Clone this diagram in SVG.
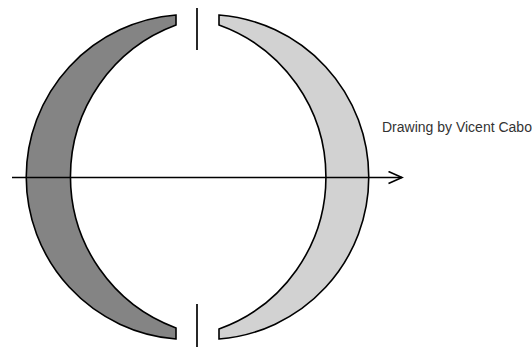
<svg xmlns="http://www.w3.org/2000/svg" width="532" height="347" viewBox="0 0 532 347">
  <style>
    .lens { stroke: #000; stroke-width: 1.6; stroke-linejoin: miter; }
    .tick { stroke: #111; stroke-width: 1.8; fill: none; }
    .axis { stroke: #000; stroke-width: 1.6; fill: none; }
    .label { font-family: "Liberation Sans", Arial, sans-serif; font-size: 14px; fill: #333; }
  </style>
  <defs>
    <marker id="arrow" markerWidth="16" markerHeight="14" refX="14" refY="7" orient="auto" markerUnits="userSpaceOnUse">
      <path d="M0.5,1 L14,7 L0.5,13" fill="none" stroke="#000" stroke-width="1.6"/>
    </marker>
  </defs>
  <rect width="532" height="347" fill="#fff"/>
  <g id="left-lens">
    <path class="lens" fill="#848484" d="M176,15 A162.5,162.5 0 0 0 176,339 L176,328 A161.5,161.5 0 0 1 176,25 Z"/>
  </g>
  <g id="right-lens">
    <path class="lens" fill="#d2d2d2" d="M219,15 A162.5,162.5 0 0 1 219,339 L219,329 A161.5,161.5 0 0 0 219,25 Z"/>
  </g>
  <g id="top-mark">
    <line class="tick" x1="197" y1="8" x2="197" y2="50"/>
  </g>
  <g id="bottom-mark">
    <line class="tick" x1="197" y1="304" x2="197" y2="347"/>
  </g>
  <g id="connectors">
    <line class="axis" x1="12" y1="177.5" x2="402" y2="177.5" marker-end="url(#arrow)"/>
  </g>
  <g id="caption">
    <text class="label" x="382" y="132">Drawing by Vicent Cabo</text>
  </g>
</svg>
